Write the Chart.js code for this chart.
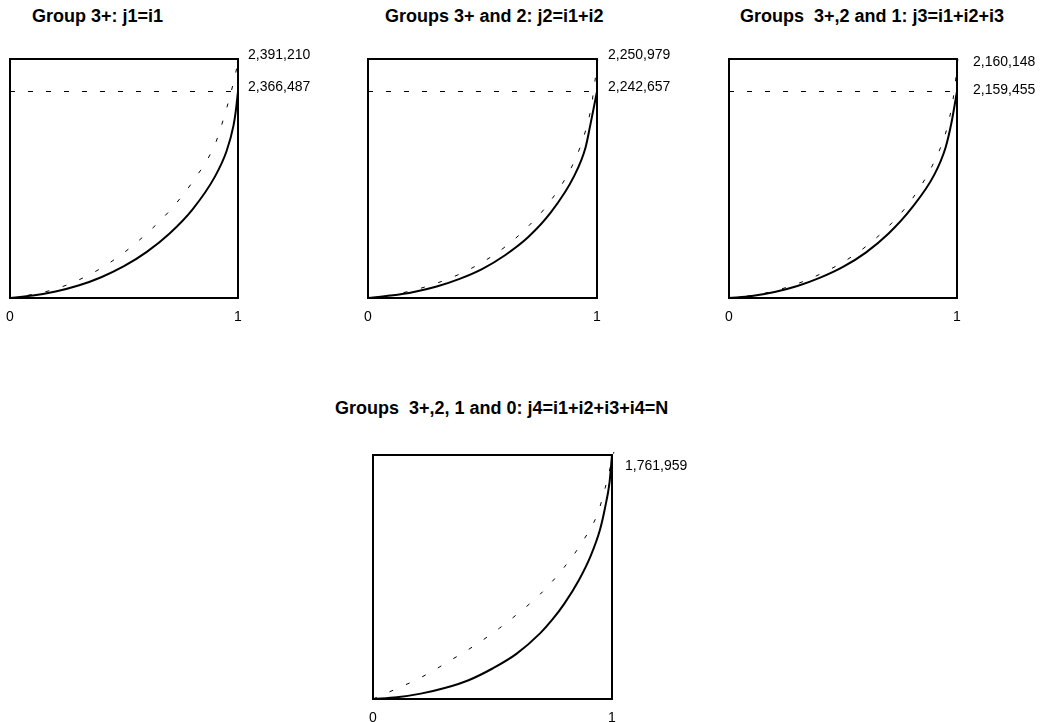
<!DOCTYPE html>
<html>
<head>
<meta charset="utf-8">
<script src="https://cdn.jsdelivr.net/npm/chart.js@4.4.1/dist/chart.umd.min.js"></script>
<style>
  body { margin: 0; background: #fff; width: 1042px; height: 722px; position: relative; overflow: hidden; }
  .title { position: absolute; font: bold 18px "Liberation Sans", Arial, sans-serif; line-height: 18px; white-space: pre; color: #000; }
  canvas { position: absolute; }
</style>
</head>
<body>
<script>
// titles of the four panels
const titles = [
  "Group 3+: j1=i1",
  "Groups 3+ and 2: j2=i1+i2",
  "Groups  3+,2 and 1: j3=i1+i2+i3",
  "Groups  3+,2, 1 and 0: j4=i1+i2+i3+i4=N",
];
const xTickValues = [0, 1];
const xTickLabels = ["0", "1"];
// level of the dashed reference line (share of the box height)
const dashLevel = 0.864;

// curves, [x, y] in 0..1
const g1Solid = [[0,0],[0.1,0.01],[0.2,0.027],[0.3,0.052],[0.4,0.087],[0.5,0.133],[0.6,0.193],[0.7,0.27],[0.8,0.37],[0.9,0.51],[0.95,0.615],[0.98,0.72],[0.99,0.78],[1,0.864]];
const g1Dotted = [[0,0],[0.1,0.015],[0.2,0.038],[0.3,0.075],[0.4,0.125],[0.5,0.19],[0.6,0.27],[0.7,0.365],[0.8,0.485],[0.9,0.645],[0.935,0.745],[0.965,0.845],[0.987,0.93],[1.005,1.01]];
const g2Solid = [[0,0],[0.1,0.01],[0.2,0.025],[0.3,0.048],[0.4,0.08],[0.5,0.122],[0.6,0.18],[0.7,0.255],[0.8,0.36],[0.9,0.51],[0.95,0.63],[0.97,0.72],[1,0.864]];
const g2Dotted = [[0,0],[0.1,0.012],[0.2,0.033],[0.3,0.062],[0.4,0.1],[0.5,0.15],[0.6,0.215],[0.7,0.3],[0.8,0.41],[0.9,0.57],[0.95,0.7],[0.975,0.8],[0.99,0.9],[1.005,1.01]];
const g3Solid = [[0,0],[0.1,0.008],[0.2,0.025],[0.3,0.05],[0.4,0.085],[0.5,0.13],[0.6,0.19],[0.7,0.27],[0.8,0.375],[0.9,0.515],[0.95,0.63],[0.975,0.73],[1,0.864]];
const g3Dotted = [[0,0],[0.1,0.01],[0.2,0.03],[0.3,0.06],[0.4,0.1],[0.5,0.15],[0.6,0.215],[0.7,0.3],[0.8,0.41],[0.9,0.57],[0.95,0.69],[0.975,0.79],[0.99,0.88],[1.005,1.01]];
const g4Solid = [[0,0],[0.1,0.007],[0.2,0.022],[0.3,0.045],[0.4,0.077],[0.5,0.125],[0.6,0.185],[0.7,0.27],[0.75,0.325],[0.8,0.39],[0.86,0.485],[0.91,0.585],[0.95,0.695],[0.97,0.78],[0.99,0.89],[1,1]];
const g4Dotted = [[0,0],[0.029,0.012],[0.105,0.045],[0.18,0.078],[0.25,0.115],[0.32,0.156],[0.39,0.197],[0.46,0.242],[0.53,0.291],[0.6,0.345],[0.7,0.43],[0.8,0.54],[0.88,0.65],[0.94,0.76],[0.97,0.86],[1.008,1.012]];

// value labels at the right of each box
const g1Labels = ["2,391,210", "2,366,487"];
const g2Labels = ["2,250,979", "2,242,657"];
const g3Labels = ["2,160,148", "2,159,455"];
const g4Labels = ["1,761,959"];
const labelLevels = [1, dashLevel];

// layout: plot box in page pixels, title spot, label gap and nudges
const panels = [
  { box: [10, 59, 228, 239], title: [32, 7], gap: 10, dy: [-4, -4], dash: true },
  { box: [368, 59, 229, 239], title: [385, 7], gap: 11, dy: [-4, -4], dash: true },
  { box: [729, 59, 228, 239], title: [740, 7], gap: 16, dy: [3, -1], dash: true },
  { box: [373, 455, 239, 244], title: [335, 399], gap: 13, dy: [11], dash: false },
];
const curves = [[g1Solid, g1Dotted], [g2Solid, g2Dotted], [g3Solid, g3Dotted], [g4Solid, g4Dotted]];
const valueLabels = [g1Labels, g2Labels, g3Labels, g4Labels];

const toPts = arr => arr.map(p => ({ x: p[0], y: p[1] }));
const fontFamily = "'Liberation Sans', Arial, sans-serif";

// frame around the plot area
const boxPlugin = {
  id: "box",
  afterDatasetsDraw(chart) {
    const a = chart.chartArea, ctx = chart.ctx;
    ctx.save();
    ctx.strokeStyle = "#000";
    ctx.lineWidth = 2;
    ctx.strokeRect(a.left, a.top, a.right - a.left, a.bottom - a.top);
    ctx.restore();
  },
};

// numbers written next to the right edge
const labelPlugin = {
  id: "valueLabels",
  afterDraw(chart, args, opts) {
    const ctx = chart.ctx, y = chart.scales.y;
    ctx.save();
    ctx.fillStyle = "#000";
    ctx.font = "14px " + fontFamily;
    ctx.textAlign = "left";
    ctx.textBaseline = "middle";
    opts.texts.forEach((t, i) => {
      ctx.fillText(t, chart.chartArea.right + opts.gap, y.getPixelForValue(labelLevels[i]) + opts.dy[i]);
    });
    ctx.restore();
  },
};

panels.forEach((p, i) => {
  const t = document.createElement("div");
  t.className = "title";
  t.textContent = titles[i];
  t.style.left = p.title[0] + "px";
  t.style.top = p.title[1] + "px";
  document.body.appendChild(t);

  const [bl, bt, bw, bh] = p.box;
  const cv = document.createElement("canvas");
  cv.width = bw + 100;
  cv.height = bh + 60;
  cv.style.left = (bl - 10) + "px";
  cv.style.top = (bt - 20) + "px";
  document.body.appendChild(cv);

  const datasets = [
    { data: toPts(curves[i][0]), showLine: true, borderColor: "#000", borderWidth: 2, pointRadius: 0, cubicInterpolationMode: "monotone", clip: false },
    { data: toPts(curves[i][1]), showLine: true, borderColor: "#000", borderWidth: 1, borderDash: [4, 14], pointRadius: 0, cubicInterpolationMode: "monotone", clip: false },
  ];
  if (p.dash) {
    datasets.push({ data: [{ x: 0, y: dashLevel }, { x: 1, y: dashLevel }], showLine: true, borderColor: "#000", borderWidth: 1, borderDash: [5, 13], pointRadius: 0 });
  }

  new Chart(cv, {
    type: "scatter",
    data: { datasets: datasets },
    options: {
      responsive: false,
      animation: false,
      layout: { autoPadding: false, padding: { left: 10, top: 20, right: 90, bottom: 10 } },
      plugins: {
        legend: { display: false },
        tooltip: { enabled: false },
        valueLabels: { texts: valueLabels[i], gap: p.gap, dy: p.dy },
      },
      scales: {
        x: {
          type: "linear", min: 0, max: 1,
          grid: { display: false }, border: { display: false },
          afterBuildTicks: s => { s.ticks = xTickValues.map(v => ({ value: v })); },
          afterFit: s => { s.height = 30; },
          ticks: { padding: 3, color: "#000", maxRotation: 0, autoSkip: false,
                   font: { family: fontFamily, size: 14 },
                   callback: (v, idx) => xTickLabels[idx] },
        },
        y: { display: false, min: 0, max: 1 },
      },
    },
    plugins: [boxPlugin, labelPlugin],
  });
});
</script>
</body>
</html>
